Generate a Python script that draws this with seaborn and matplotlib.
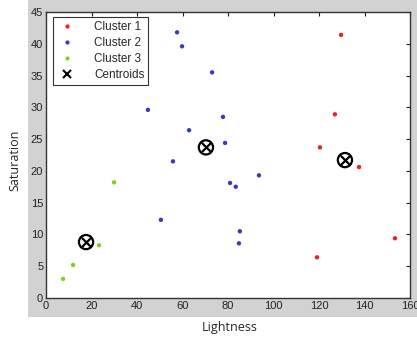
import matplotlib
matplotlib.use("Agg")
import matplotlib.pyplot as plt
import seaborn as sns
import pandas as pd
from matplotlib.patches import Rectangle
from matplotlib.lines import Line2D

c1_x = [129.7, 127.0, 120.4, 137.6, 153.4, 119.1]
c1_y = [41.4, 28.9, 23.7, 20.6, 9.4, 6.4]
c2_x = [57.6, 59.8, 73.0, 44.8, 77.8, 62.9, 55.8, 50.5, 78.7, 80.9, 83.4, 93.6, 85.2, 84.8]
c2_y = [41.8, 39.6, 35.5, 29.6, 28.5, 26.4, 21.5, 12.3, 24.4, 18.1, 17.5, 19.3, 10.5, 8.6]
c3_x = [29.9, 23.3, 11.9, 7.5]
c3_y = [18.2, 8.3, 5.2, 3.0]
cent_x = [131.4, 70.3, 17.6]
cent_y = [21.7, 23.7, 8.8]
names = ["Cluster 1", "Cluster 2", "Cluster 3"]
colors = ["#ee2020", "#3a3ac0", "#80d020"]

df = pd.DataFrame({
    "Lightness": c1_x + c2_x + c3_x,
    "Saturation": c1_y + c2_y + c3_y,
    "Cluster": [names[0]] * len(c1_x) + [names[1]] * len(c2_x) + [names[2]] * len(c3_x),
})
cdf = pd.DataFrame({"Lightness": cent_x, "Saturation": cent_y})

sns.set_style("white")
plt.rcParams["font.family"] = ["Liberation Sans", "DejaVu Sans"]

fig = plt.figure(figsize=(4.17, 3.44), dpi=100)
bg = Rectangle((28 / 417, 27 / 344), 1, 1, transform=fig.transFigure,
               facecolor="#d2d2d2", edgecolor="none", zorder=-10)
fig.add_artist(bg)
ax = fig.add_axes([46 / 417, 46 / 344, 364 / 417, 286 / 344])
ax.set_zorder(5)
ax.set_facecolor("white")

sns.scatterplot(data=df, x="Lightness", y="Saturation", hue="Cluster",
                palette=dict(zip(names, colors)), s=10, edgecolor="none",
                ax=ax, legend=False)
ax.scatter(cdf["Lightness"], cdf["Saturation"], s=105, facecolor="none",
           edgecolor="black", linewidth=1.6, zorder=3)
ax.scatter(cdf["Lightness"], cdf["Saturation"], marker="x", s=45,
           color="black", linewidth=1.6, zorder=4)

ax.set_xlim(0, 160)
ax.set_ylim(0, 45)
ax.set_xticks(range(0, 161, 20))
ax.set_yticks(range(0, 46, 5))
ax.tick_params(direction="in", length=3, top=True, right=True, labelsize=8,
               colors="#222222", pad=2)
for sp in ax.spines.values():
    sp.set_color("#333333")
    sp.set_linewidth(1.0)
    sp.set_visible(True)

ax.set_xlabel("")
ax.set_ylabel("")
fig.text(230 / 417, 1 - 328 / 344, "Lightness", ha="center", va="center",
         fontsize=9, family=["Open Sans", "DejaVu Sans"])
fig.text(15 / 417, 1 - 160 / 344, "Saturation", ha="center", va="center",
         rotation=90, fontsize=9, family=["Open Sans", "DejaVu Sans"])

handles = [Line2D([], [], marker=".", linestyle="none", color=c, markersize=4)
           for c in colors]
handles.append(Line2D([], [], marker="x", linestyle="none", color="black",
                      markersize=6, markeredgewidth=1.5))
leg = ax.legend(handles, names + ["Centroids"], loc="upper left",
                bbox_to_anchor=(0.012, 0.99), fontsize=8.5, frameon=True,
                fancybox=False, edgecolor="#333333", framealpha=1,
                handletextpad=1.4, borderpad=0.3, labelspacing=0.35,
                handlelength=1.8, borderaxespad=0.2)
leg.get_frame().set_linewidth(0.8)

fig.savefig("out.png", dpi=100)
